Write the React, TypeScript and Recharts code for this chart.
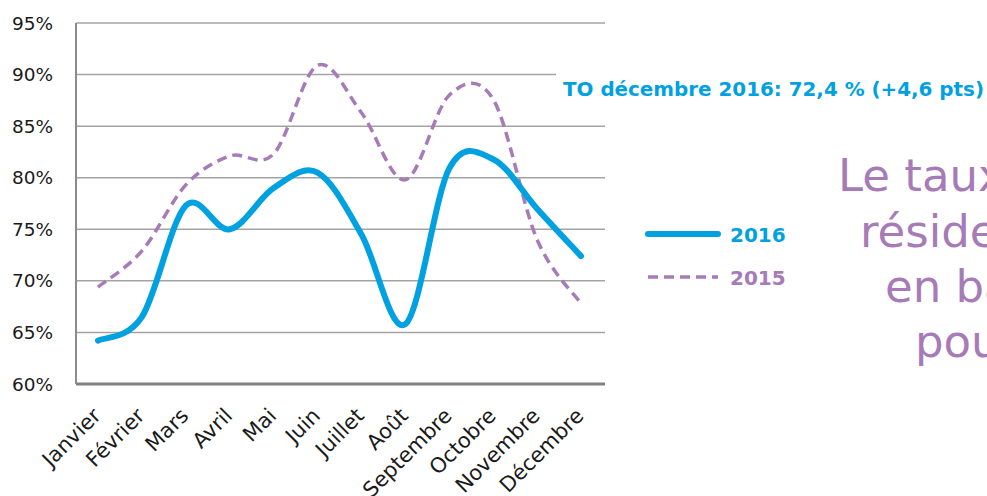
import { LineChart, Line, XAxis, YAxis, CartesianGrid, Legend } from "recharts";

const BLUE = "#00a1e1";
const PURPLE = "#a67bb7";
const GRID = "#a3a3a3";
const FONT = "'DejaVu Sans', sans-serif";

const months = ["Janvier", "Février", "Mars", "Avril", "Mai", "Juin", "Juillet", "Août", "Septembre", "Octobre", "Novembre", "Décembre"];
const to2016 = [64.2, 66.5, 77.3, 75.0, 79.0, 80.5, 74.5, 65.8, 80.9, 81.8, 77.0, 72.4];
const to2015 = [69.4, 72.9, 79.3, 82.1, 82.3, 90.9, 86.3, 79.8, 88.0, 87.6, 74.0, 67.8];
const yTicks = [60, 65, 70, 75, 80, 85, 90, 95];

const data = months.map((m, i) => ({ month: m, y2016: to2016[i], y2015: to2015[i] }));

// excel-like smoothed line (bezier through every point, tangent = neighbours / 6)
function excelSmooth(context: any) {
  let pts: number[][] = [];
  return {
    areaStart() {},
    areaEnd() {},
    lineStart() { pts = []; },
    point(x: number, y: number) { pts.push([+x, +y]); },
    lineEnd() {
      if (!pts.length) return;
      context.moveTo(pts[0][0], pts[0][1]);
      for (let i = 0; i < pts.length - 1; i++) {
        const p0 = pts[Math.max(0, i - 1)];
        const p1 = pts[i];
        const p2 = pts[i + 1];
        const p3 = pts[Math.min(pts.length - 1, i + 2)];
        context.bezierCurveTo(
          p1[0] + (p2[0] - p0[0]) / 6, p1[1] + (p2[1] - p0[1]) / 6,
          p2[0] - (p3[0] - p1[0]) / 6, p2[1] - (p3[1] - p1[1]) / 6,
          p2[0], p2[1]
        );
      }
    },
  };
}

const MonthTick = ({ x, y, payload }: any) => (
  <text
    x={x + 4}
    y={y + 25}
    transform={`rotate(-45 ${x + 4} ${y + 25})`}
    textAnchor="end"
    fontSize={21}
    fontFamily={FONT}
    fill="#1a1a1a"
  >
    {payload.value}
  </text>
);

const LegendBox = () => (
  <svg width={170} height={100} style={{ display: "block" }}>
    <line x1={8} y1={34} x2={78} y2={34} stroke={BLUE} strokeWidth={6} strokeLinecap="round" />
    <text x={90} y={42} fontSize={20} fontWeight="bold" fontFamily={FONT} fill={BLUE}>2016</text>
    <line x1={8} y1={77} x2={78} y2={77} stroke={PURPLE} strokeWidth={3.5} strokeDasharray="10 6" />
    <text x={90} y={85} fontSize={20} fontWeight="bold" fontFamily={FONT} fill={PURPLE}>2015</text>
  </svg>
);

export default function App() {
  return (
    <div style={{ position: "absolute", left: 0, top: 0, width: 987, height: 496, overflow: "hidden", background: "#fff" }}>
      <LineChart width={987} height={496} data={data} margin={{ top: 23, right: 382, bottom: 0, left: 6 }}>
        <CartesianGrid vertical={false} stroke={GRID} strokeWidth={1.5} />
        <XAxis
          dataKey="month"
          interval={0}
          height={112}
          padding={{ left: 22, right: 24 }}
          tick={<MonthTick />}
          tickLine={false}
          axisLine={{ stroke: "#808080", strokeWidth: 3 }}
        />
        <YAxis
          domain={[60, 95]}
          ticks={yTicks}
          width={70}
          tickFormatter={(v) => `${v}%`}
          tickLine={false}
          tickMargin={17}
          tick={{ fontSize: 18.5, fontFamily: FONT, fill: "#1a1a1a" }}
          axisLine={{ stroke: "#8c8c8c", strokeWidth: 2 }}
        />
        <Legend
          layout="horizontal"
          align="center"
          verticalAlign="middle"
          content={() => <LegendBox />}
          wrapperStyle={{ left: 640, top: 200, width: 170 }}
        />
        <Line dataKey="y2015" type={excelSmooth as any} stroke={PURPLE} strokeWidth={3.5} strokeDasharray="10 6" dot={false} activeDot={false} isAnimationActive={false} />
        <Line dataKey="y2016" type={excelSmooth as any} stroke={BLUE} strokeWidth={6} strokeLinecap="round" dot={false} activeDot={false} isAnimationActive={false} />
      </LineChart>
      <svg width={987} height={496} style={{ position: "absolute", left: 0, top: 0, pointerEvents: "none" }}>
        <rect x={556} y={70} width={431} height={34} fill="#fff" />
        <text x={563} y={96} fontSize={19.5} fontWeight="bold" fontFamily={FONT} fill={BLUE} textLength={421} lengthAdjust="spacingAndGlyphs">
          TO décembre 2016: 72,4 % (+4,6 pts)
        </text>
        <g fontSize={45} fontFamily={FONT} fill={PURPLE}>
          <text x={838} y={191}>Le taux</text>
          <text x={860} y={247}>réside</text>
          <text x={885} y={302}>en ba</text>
          <text x={915} y={357}>pou</text>
        </g>
      </svg>
    </div>
  );
}
